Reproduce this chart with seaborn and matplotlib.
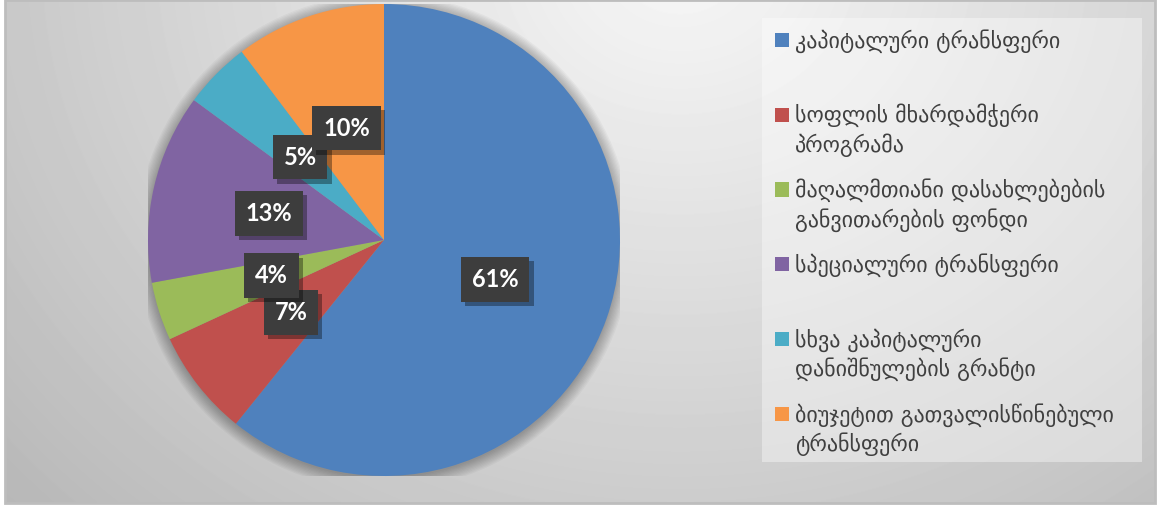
import numpy as np
import matplotlib
matplotlib.use("Agg")
import matplotlib.pyplot as plt
import matplotlib.patheffects as pe
from matplotlib.patches import Rectangle, Circle
from matplotlib.text import Annotation
import seaborn as sns

# ---- data ----
categories = [
    "კაპიტალური ტრანსფერი",
    "სოფლის მხარდამჭერი\nპროგრამა",
    "მაღალმთიანი დასახლებების\nგანვითარების ფონდი",
    "სპეციალური ტრანსფერი",
    "სხვა კაპიტალური\nდანიშნულების გრანტი",
    "ბიუჯეტით გათვალისწინებული\nტრანსფერი",
]
values = [60.8, 7.3, 4.0, 13.0, 4.6, 10.3]
colors = ["#4F81BD", "#C0504D", "#9BBB59", "#8064A2", "#4BACC6", "#F79646"]

sns.set_theme(style="white")
plt.rcParams["font.family"] = ["DejaVu Sans"]
palette = sns.color_palette(colors)

W, H = 1160, 507
fig = plt.figure(figsize=(W / 100, H / 100), dpi=100)
fig.patch.set_facecolor("white")

# ---- background gradient (chart area) ----
x0, x1, y0, y1 = 5, 1155, 0, 503
bg = fig.add_axes([x0 / W, 1 - y1 / H, (x1 - x0) / W, (y1 - y0) / H])
gx, gy = np.meshgrid(np.arange(x0, x1), np.arange(y0, y1))
d = np.sqrt(((gx - 680) / 1.0) ** 2 + ((gy + 40) * 1.15) ** 2) / 700.0
shade = np.clip(0.97 - 0.19 * d, 0.70, 1.0)
bg.imshow(shade, cmap="gray", vmin=0, vmax=1, aspect="auto", extent=[0, 1, 0, 1], interpolation="bilinear")
bg.set_axis_off()
fig.add_artist(Rectangle((x0 / W, 1 - y1 / H), (x1 - x0) / W, (y1 - y0) / H,
                         transform=fig.transFigure, fill=False, edgecolor="#bdbdbd", linewidth=2.0))

# ---- legend background ----
fig.add_artist(Rectangle((762 / W, 1 - 462 / H), (1142 - 762) / W, (462 - 18) / H,
                         transform=fig.transFigure, facecolor="white", alpha=0.38, edgecolor="none"))

# ---- pie ----
cx, cy, r = 384, 240, 236
ax = fig.add_axes([(cx - r) / W, (H - cy - r) / H, 2 * r / W, 2 * r / H])

for rr in np.linspace(1.05, 1.0, 10):
    ax.add_patch(Circle((0, -0.008), rr, facecolor="black", alpha=0.03, edgecolor="none", zorder=0))

wedges, texts, autotexts = ax.pie(
    values, colors=palette, startangle=90, counterclock=False, radius=1,
    autopct=lambda p: f"{p:.0f}%", pctdistance=0.5,
    wedgeprops=dict(linewidth=0),
    textprops=dict(color="white", fontsize=17, fontweight="bold", family="Lato"),
)
ax.set_xlim(-1, 1)
ax.set_ylim(-1, 1)
ax.set_aspect("equal")
ax.set_axis_off()
for t in autotexts:
    t.set_bbox(dict(boxstyle="square,pad=0.46", facecolor="#3d3d3d", edgecolor="none"))
    t.get_bbox_patch().set_path_effects([
        pe.SimplePatchShadow(offset=(3, -3), shadow_rgbFace="black", alpha=0.35),
        pe.Normal(),
    ])

# ---- legend ----
fs = 15.8
first_lines = [c.split("\n")[0] for c in categories]
leg = fig.legend(
    wedges, first_lines, loc="upper left",
    bbox_to_anchor=(775 / W, 1 - 29 / H), frameon=False,
    fontsize=fs, labelcolor="#404040",
    handlelength=0.62, handleheight=0.62, handletextpad=0.3,
    labelspacing=2.33, borderpad=0, borderaxespad=0,
)
for txt, cat in zip(leg.get_texts(), categories):
    parts = cat.split("\n")
    if len(parts) > 1:
        ann = Annotation(parts[1], xy=(0, 0), xycoords=txt, xytext=(0, -6),
                         textcoords="offset pixels", va="top", ha="left",
                         fontsize=fs, color="#404040")
        ann.set_zorder(10)
        fig.add_artist(ann)

fig.savefig("out.png", dpi=100)
